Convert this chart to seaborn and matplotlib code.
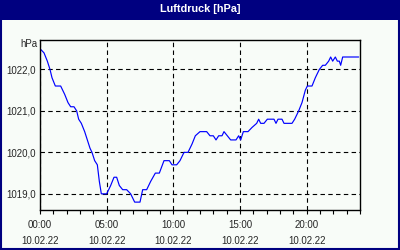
import matplotlib
matplotlib.use("Agg")
import matplotlib.pyplot as plt
import seaborn as sns
import pandas as pd
from matplotlib.patches import Rectangle

hours = [0.0, 0.3, 0.55, 0.75, 0.9, 1.15, 1.55, 1.85, 2.1, 2.3,
         2.55, 2.75, 2.9, 3.1, 3.35, 3.55, 3.75, 3.9, 4.1, 4.3,
         4.45, 4.6, 5.0, 5.3, 5.55, 5.75, 5.95, 6.2, 6.5, 6.8,
         7.1, 7.5, 7.7, 8.0, 8.3, 8.65, 8.95, 9.3, 9.7, 9.9,
         10.25, 10.5, 10.8, 11.1, 11.4, 11.65, 12.0, 12.5, 12.75, 13.0,
         13.2, 13.4, 13.65, 13.8, 14.05, 14.3, 14.7, 14.9, 15.05, 15.25,
         15.6, 15.9, 16.25, 16.4, 16.55, 16.8, 17.05, 17.55, 17.7, 17.85,
         18.15, 18.3, 18.9, 19.1, 19.4, 19.65, 19.9, 20.05, 20.4, 20.65,
         20.95, 21.2, 21.4, 21.65, 21.8, 21.95, 22.15, 22.3, 22.45, 22.55,
         22.7, 23.9]
pressure = [1022.5, 1022.4, 1022.2, 1022.0, 1021.8, 1021.6, 1021.6, 1021.4, 1021.2, 1021.1,
            1021.1, 1021.0, 1020.8, 1020.7, 1020.5, 1020.3, 1020.1, 1020.0, 1019.8, 1019.7,
            1019.3, 1019.0, 1019.0, 1019.2, 1019.4, 1019.4, 1019.2, 1019.1, 1019.1, 1019.0,
            1018.8, 1018.8, 1019.1, 1019.1, 1019.3, 1019.5, 1019.5, 1019.8, 1019.8, 1019.7,
            1019.7, 1019.8, 1020.0, 1020.0, 1020.2, 1020.4, 1020.5, 1020.5, 1020.4, 1020.4,
            1020.3, 1020.4, 1020.4, 1020.5, 1020.4, 1020.3, 1020.3, 1020.4, 1020.3, 1020.5,
            1020.5, 1020.6, 1020.7, 1020.8, 1020.7, 1020.7, 1020.8, 1020.8, 1020.7, 1020.8,
            1020.8, 1020.7, 1020.7, 1020.8, 1021.0, 1021.2, 1021.5, 1021.6, 1021.6, 1021.8,
            1022.0, 1022.1, 1022.1, 1022.2, 1022.3, 1022.2, 1022.3, 1022.2, 1022.2, 1022.1,
            1022.3, 1022.3]
xtick_pos = [0, 5, 10, 15, 20]
xtick_labels = ["00:00\n10.02.22", "05:00\n10.02.22", "10:00\n10.02.22",
                "15:00\n10.02.22", "20:00\n10.02.22"]
ytick_pos = [1019.0, 1020.0, 1021.0, 1022.0]
ytick_labels = ["1019,0", "1020,0", "1021,0", "1022,0"]
title = "Luftdruck [hPa]"
unit = "hPa"

sns.set_style("white")
plt.rcParams['font.family'] = ['Liberation Sans', 'DejaVu Sans']

bg = '#f8fcf8'
navy = '#000080'
fig = plt.figure(figsize=(4, 2.5), dpi=100, facecolor=bg)

# title bar and frame
fig.patches.append(Rectangle((0, 0.92), 1, 0.08, transform=fig.transFigure,
                             facecolor=navy, edgecolor='none', zorder=0))
fig.patches.append(Rectangle((0.0015, 0.003), 0.996, 0.995, transform=fig.transFigure,
                             facecolor='none', edgecolor=navy, linewidth=1.5, zorder=5))
fig.text(0.5, 0.966, title, color='white', fontsize=7.8, fontweight='bold',
         ha='center', va='center')

ax = fig.add_axes([0.1, 0.16, 0.8, 0.68])
ax.set_facecolor(bg)
df = pd.DataFrame({"h": hours, "p": pressure})
sns.lineplot(data=df, x="h", y="p", ax=ax, color='#0000ff', linewidth=0.85)

ax.set_xlim(0, 24)
ax.set_ylim(1018.61, 1022.71)
ax.set_xticks(range(0, 25), minor=True)
ax.set_xticks(xtick_pos)
ax.set_xticklabels(xtick_labels, fontsize=7, linespacing=1.75)
ax.set_yticks(ytick_pos)
ax.set_yticklabels(ytick_labels, fontsize=7)
ax.tick_params(axis='x', which='both', direction='out', length=3, width=0.8,
               color='black', pad=4, bottom=True)
ax.tick_params(axis='y', length=0, pad=3)
ax.set_xlabel("")
ax.set_ylabel("")
for s in ax.spines.values():
    s.set_color('black')
    s.set_linewidth(1.0)
    s.set_visible(True)
ax.grid(True, which='major', color='black', linestyle=(0, (4, 3)), linewidth=0.8)
ax.text(-0.008, 1.0 - 4/170, unit, transform=ax.transAxes, ha='right', va='center',
        fontsize=7)

fig.savefig("out.png", dpi=100, facecolor=bg)
